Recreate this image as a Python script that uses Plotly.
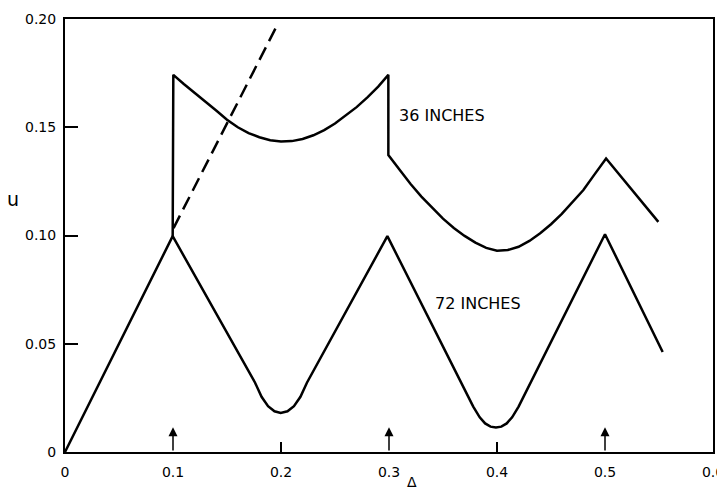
import plotly.graph_objects as go

# 72 inches curve
x72 = [0.0, 0.0997, 0.176, 0.182, 0.188, 0.194, 0.1997, 0.206, 0.212, 0.218, 0.224, 0.2985,
       0.378, 0.384, 0.389, 0.394, 0.399, 0.404, 0.409, 0.414, 0.420, 0.5, 0.5534]
u72 = [0.0, 0.0997, 0.032, 0.0255, 0.0212, 0.0188, 0.0180, 0.0188, 0.0212, 0.0255, 0.032, 0.0997,
       0.021, 0.0160, 0.0132, 0.0117, 0.0113, 0.0117, 0.0132, 0.0160, 0.021, 0.1006, 0.0462]

# 36 inches curve
x36 = [0.0997, 0.1003, 0.11, 0.12, 0.13, 0.14, 0.15, 0.16, 0.17, 0.18, 0.19, 0.20,
       0.21, 0.22, 0.23, 0.24, 0.25, 0.26, 0.27, 0.28, 0.29, 0.2994,
       0.2994, 0.31, 0.32, 0.33, 0.34, 0.35, 0.36, 0.37, 0.38, 0.39, 0.40,
       0.41, 0.42, 0.43, 0.44, 0.45, 0.46, 0.47, 0.48, 0.49, 0.501, 0.5494]
u36 = [0.0997, 0.1742, 0.1700, 0.1660, 0.1618, 0.1577, 0.1535, 0.1500, 0.1473, 0.1454, 0.1440, 0.1434,
       0.1436, 0.1446, 0.1463, 0.1487, 0.1517, 0.1553, 0.1593, 0.1638, 0.1688, 0.1742,
       0.1372, 0.1302, 0.1238, 0.1180, 0.1127, 0.1078, 0.1035, 0.0998, 0.0967, 0.0943, 0.0930,
       0.0933, 0.0948, 0.0975, 0.1010, 0.1052, 0.1100, 0.1153, 0.1210, 0.1280, 0.1356, 0.1063]

# dashed line
x_dash = [0.1005, 0.1966]
u_dash = [0.1034, 0.1973]

x_ticks = [0, 0.1, 0.2, 0.3, 0.4, 0.5, 0.6]
x_tick_labels = ["0", "0.1", "0.2", "0.3", "0.4", "0.5", "0.6"]
x_minor_ticks = [0.2, 0.4]
y_ticks = [0, 0.05, 0.10, 0.15, 0.20]
y_tick_labels = ["0", "0.05", "0.10", "0.15", "0.20"]

arrow_positions = [0.1, 0.3, 0.5]
arrow_height = 0.0114

labels = [("36 INCHES", 0.307, 0.1552), ("72 INCHES", 0.341, 0.0687)]

FONT = "DejaVu Sans"
line_style = dict(color="black", width=2.5)

fig = go.Figure()
fig.add_trace(go.Scatter(x=x72, y=u72, mode="lines", line=line_style, showlegend=False, hoverinfo="skip"))
fig.add_trace(go.Scatter(x=x36, y=u36, mode="lines", line=line_style, showlegend=False, hoverinfo="skip"))
fig.add_trace(go.Scatter(x=x_dash, y=u_dash, mode="lines",
                         line=dict(color="black", width=2.5, dash="14px,7px"),
                         showlegend=False, hoverinfo="skip"))
# invisible trace for secondary x axis (inner ticks)
fig.add_trace(go.Scatter(x=[0, 0.6], y=[0, 0], xaxis="x2", mode="lines",
                         line=dict(width=0), showlegend=False, hoverinfo="skip"))

annotations = []
for xp in arrow_positions:
    annotations.append(dict(x=xp, y=arrow_height, ax=xp, ay=0, xref="x", yref="y",
                            axref="x", ayref="y", showarrow=True, arrowhead=2,
                            arrowsize=1.2, arrowwidth=1.5, arrowcolor="black", text=""))
for txt, xx, yy in labels:
    annotations.append(dict(x=xx, y=yy, xref="x", yref="y", text=txt, showarrow=False,
                            xanchor="left", yanchor="middle",
                            font=dict(family=FONT, size=16, color="black")))
annotations.append(dict(x=0.321, y=0, xref="x", yref="paper", text="Δ", showarrow=False,
                        yanchor="middle", yshift=-30,
                        font=dict(family=FONT, size=14, color="black")))
annotations.append(dict(x=0, y=0.1168, xref="paper", yref="y", text="u", showarrow=False,
                        xanchor="center", yanchor="middle", xshift=-52,
                        font=dict(family=FONT, size=19, color="black")))

fig.update_layout(
    width=717, height=483, autosize=False,
    margin=dict(l=57, r=12, t=11, b=39, autoexpand=False),
    plot_bgcolor="white", paper_bgcolor="white",
    xaxis=dict(range=[0, 0.6], tickvals=x_ticks, ticktext=x_tick_labels, ticks="",
               showgrid=False, zeroline=False, showline=True, linecolor="black",
               linewidth=2, mirror=True, ticklabelstandoff=6, automargin=False,
               tickfont=dict(family=FONT, size=14, color="black")),
    xaxis2=dict(range=[0, 0.6], overlaying="x", side="bottom", tickvals=x_minor_ticks,
                ticks="inside", ticklen=10, tickwidth=1.5, tickcolor="black", automargin=False,
                showticklabels=False, showgrid=False, zeroline=False, showline=False),
    yaxis=dict(range=[0, 0.2], tickvals=y_ticks, ticktext=y_tick_labels, ticks="inside",
               ticklen=13, tickwidth=1.5, tickcolor="black", automargin=False,
               showgrid=False, zeroline=False, showline=True, linecolor="black",
               linewidth=2, mirror=True, ticklabelstandoff=4,
               tickfont=dict(family=FONT, size=14, color="black")),
    annotations=annotations,
)

fig.write_html("out.html")
